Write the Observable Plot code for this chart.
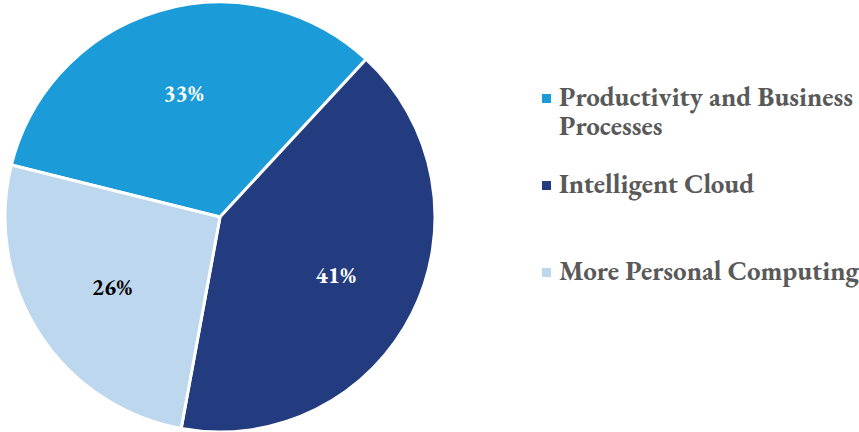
<!DOCTYPE html>
<html>
<head>
<meta charset="utf-8">
<script src="https://cdn.jsdelivr.net/npm/d3@7"></script>
<script src="https://cdn.jsdelivr.net/npm/@observablehq/plot@0.6"></script>
<style>
  html, body { margin: 0; padding: 0; background: #fff; }
</style>
</head>
<body>
<div id="chart"></div>
<script>
const segments = ["Productivity and Business Processes", "Intelligent Cloud", "More Personal Computing"];
const legendLines = [["Productivity and Business", "Processes"], ["Intelligent Cloud"], ["More Personal Computing"]];
const shares = [33, 41, 26];
const colors = ["#1b9cd9", "#233b7f", "#bdd7ee"];
const labelColors = ["#ffffff", "#ffffff", "#000000"];

const FONT = "'EB Garamond', 'Liberation Serif', serif";

const data = segments.map((s, i) => ({segment: s, lines: legendLines[i], value: shares[i], color: colors[i], labelColor: labelColors[i]}));

const startDeg = -76;
const pie = d3.pie().sort(null).value(d => d.value)
  .startAngle(startDeg * Math.PI / 180)
  .endAngle((startDeg + 360) * Math.PI / 180);
const arcs = pie(data);

const labelR = 0.6;
const labels = arcs.map(a => {
  const mid = (a.startAngle + a.endAngle) / 2;
  return {x: labelR * Math.sin(mid), y: labelR * Math.cos(mid), text: a.data.value + "%", fill: a.data.labelColor};
});

function pieMark(index, scales, values, dimensions, context) {
  const cx = scales.x(0), cy = scales.y(0);
  const r = Math.abs(scales.x(1) - scales.x(0));
  const arc = d3.arc().innerRadius(0).outerRadius(r);
  const g = d3.create("svg:g").attr("transform", `translate(${cx},${cy})`);
  g.selectAll("path").data(arcs).join("path")
    .attr("d", arc)
    .attr("fill", d => d.data.color)
    .attr("stroke", "#fff")
    .attr("stroke-width", 3)
    .attr("stroke-linejoin", "round");
  return g.node();
}

// legend block drawn to the right of the pie
function legendMark(index, scales, values, dimensions, context) {
  const g = d3.create("svg:g").attr("transform", "translate(542,0)");
  const baselines = [106, 193, 280];
  const lineGap = 29;
  data.forEach((d, i) => {
    const b = baselines[i];
    g.append("rect")
      .attr("x", 0).attr("y", b - 12)
      .attr("width", 9).attr("height", 9)
      .attr("fill", d.color);
    const t = g.append("text")
      .attr("x", 17).attr("y", b)
      .attr("text-anchor", "start")
      .attr("fill", "#595959")
      .attr("font-family", FONT)
      .attr("font-weight", "bold")
      .attr("font-size", 27);
    d.lines.forEach((ln, j) => {
      t.append("tspan").attr("x", 17).attr("y", b + j * lineGap).text(ln);
    });
  });
  return g.node();
}

const chart = Plot.plot({
  width: 859,
  height: 432,
  margin: 0,
  style: {fontFamily: FONT},
  x: {domain: [-1, 1], range: [5, 435], axis: null},
  y: {domain: [-1, 1], range: [432, 2], axis: null},
  marks: [
    pieMark,
    Plot.text(labels, {x: "x", y: "y", text: "text", fill: "fill", fontSize: 23, fontWeight: "bold", fontFamily: FONT}),
    legendMark
  ]
});
document.getElementById("chart").appendChild(chart);
</script>
</body>
</html>
